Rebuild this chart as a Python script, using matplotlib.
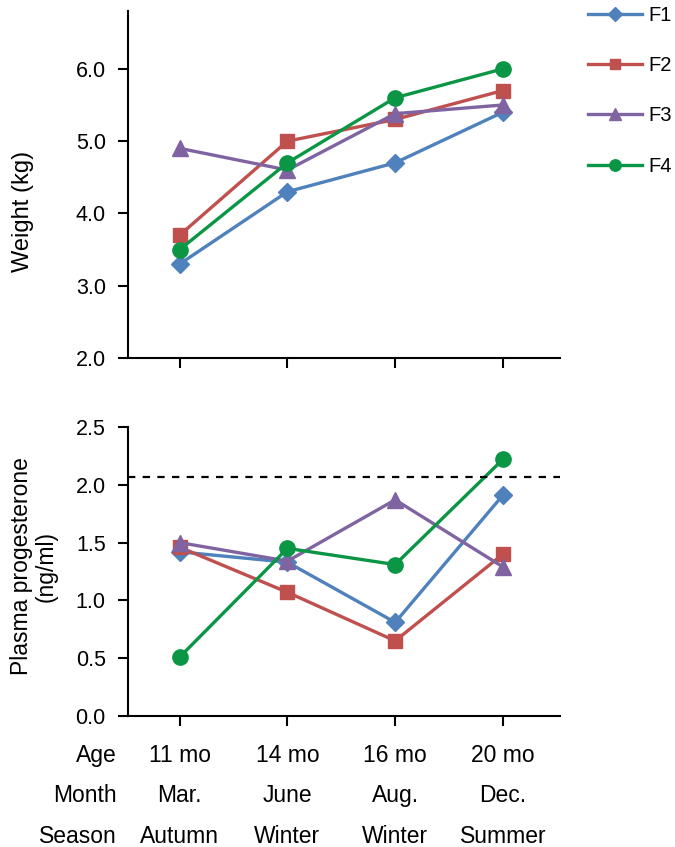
import matplotlib
matplotlib.use("Agg")
import matplotlib.pyplot as plt
import matplotlib.transforms as mtransforms

plt.rcParams['font.family'] = ['Liberation Sans', 'DejaVu Sans']

ages = ["11 mo", "14 mo", "16 mo", "20 mo"]
months = ["Mar.", "June", "Aug.", "Dec."]
seasons = ["Autumn", "Winter", "Winter", "Summer"]
row_names = ["Age", "Month", "Season"]
series = ["F1", "F2", "F3", "F4"]

weight_f1 = [3.3, 4.3, 4.7, 5.4]
weight_f2 = [3.7, 5.0, 5.3, 5.7]
weight_f3 = [4.9, 4.6, 5.38, 5.5]
weight_f4 = [3.5, 4.7, 5.6, 6.0]

prog_f1 = [1.42, 1.33, 0.81, 1.91]
prog_f2 = [1.46, 1.07, 0.65, 1.40]
prog_f3 = [1.50, 1.34, 1.87, 1.29]
prog_f4 = [0.51, 1.45, 1.31, 2.22]
threshold = 2.07

colors = ['#4F81BD', '#C0504D', '#8064A2', '#0A9644']
markers = ['D', 's', '^', 'o']
msizes = [9, 10, 11, 11]

W, H = 675, 847
fig = plt.figure(figsize=(W / 100, H / 100), dpi=100)
ax1 = fig.add_axes([128 / W, 1 - 358 / H, 432 / W, 347 / H])
ax2 = fig.add_axes([128 / W, 1 - 716 / H, 432 / W, 289 / H])

x = range(len(ages))
weights = [weight_f1, weight_f2, weight_f3, weight_f4]
progs = [prog_f1, prog_f2, prog_f3, prog_f4]

handles = []
for name, w, p, c, m, ms in zip(series, weights, progs, colors, markers, msizes):
    h, = ax1.plot(x, w, color=c, marker=m, markersize=ms, lw=2.4, label=name)
    ax2.plot(x, p, color=c, marker=m, markersize=ms, lw=2.4)
    handles.append(h)

ax2.axhline(threshold, color='black', lw=1.6, dashes=(3.3, 3.3))

for ax in (ax1, ax2):
    ax.set_xlim(-0.48, 3.53)
    ax.set_xticks(list(x))
    ax.set_xticklabels([])
    for s in ('top', 'right'):
        ax.spines[s].set_visible(False)
    for s in ('left', 'bottom'):
        ax.spines[s].set_linewidth(1.5)
    ax.tick_params(direction='out', length=7, width=1.5, labelsize=15.5, pad=9)

ax1.set_ylim(2.0, 6.8)
ax1.set_yticks([2.0, 3.0, 4.0, 5.0, 6.0])
ax1.set_yticklabels(["2.0", "3.0", "4.0", "5.0", "6.0"])
ax2.set_ylim(0, 2.5)
ax2.set_yticks([0.0, 0.5, 1.0, 1.5, 2.0, 2.5])
ax2.set_yticklabels(["0.0", "0.5", "1.0", "1.5", "2.0", "2.5"])

fig.text(23 / W, 1 - 211 / H, "Weight (kg)", rotation=90, ha='center', va='center', fontsize=17)
fig.text(34 / W, 1 - 566 / H, "Plasma progesterone\n(ng/ml)", rotation=90, ha='center',
         va='center', fontsize=16.5, linespacing=1.1)

trans = mtransforms.blended_transform_factory(ax2.transData, fig.transFigure)
row_y = [755, 795, 836]
for name, labels, yy in zip(row_names, [ages, months, seasons], row_y):
    fig.text(117 / W, 1 - yy / H, name, ha='right', va='center', fontsize=16.5)
    for i, lab in enumerate(labels):
        ax2.text(i, 1 - yy / H, lab, transform=trans, ha='center', va='center', fontsize=16.5)

fig.legend(handles=handles, loc='upper left', bbox_to_anchor=(580 / W, 1 + 2 / H),
           frameon=False, fontsize=14.5, markerscale=0.75, handlelength=2.7,
           handletextpad=0.3, labelspacing=1.55, borderaxespad=0)

fig.savefig("out.png", dpi=100)
